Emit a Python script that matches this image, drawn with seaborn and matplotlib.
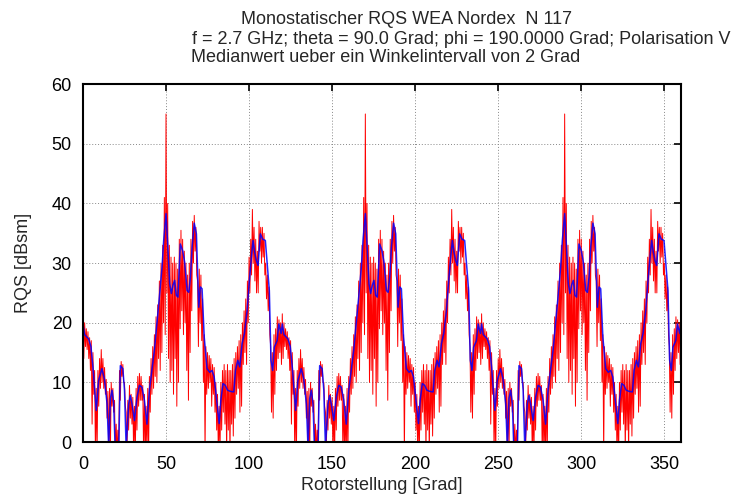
import numpy as np
import pandas as pd
import matplotlib
matplotlib.use("Agg")
import matplotlib.pyplot as plt
import seaborn as sb

# one rotor period (120 Grad); the chart repeats it 3x
periode = 120

# median curve (blue)
blau_grad = [0, 1, 3.4, 4.8, 6, 8, 9.4, 11.4, 12.9, 14.5, 15.5, 16.5, 17.5, 18.5,
             19.5, 20.5, 21.5, 22.5, 24, 25, 26, 27.5, 28.5, 29.5, 31, 32.5, 34,
             35.5, 37, 38.5, 40, 41.5, 43, 44.5, 46, 47.6, 48.6, 50, 51, 52.2,
             53.2, 54.2, 55.2, 56.2, 57.2, 58.6, 60, 61.2, 62.7, 63.7, 64.7,
             65.7, 67, 68.3, 69.7, 70.7, 71.7, 73, 74.7, 76.3, 77.7, 79, 80.7,
             82, 83, 84.3, 85.7, 87, 88.7, 90.8, 91.8, 93.2, 94.4, 95.8, 97.2,
             98.8, 100.2, 101.4, 102.4, 103.4, 104.4, 105.4, 106.8, 108.2,
             109.8, 111.2, 112.2, 113.2, 114.2, 115.2, 116.9, 117.9, 119.3]
blau_wert = [19.8, 18, 17.3, 16, 12.6, 5.3, 10.3, 12.3, 10.6, 6.4, -1, 7.3, 8.7,
             6.4, -2, -3, -2, 12.8, 12.3, 8.7, -1, 6.4, 7.8, 6.4, 3.6, 7.5, 9.5,
             9.2, 7, 3, 8.7, 12, 15.4, 19.8, 24.3, 29.3, 33.8, 38.3, 33.2, 26.5,
             24.9, 26.3, 27.1, 24.6, 24.3, 33.2, 32.1, 30.2, 25.4, 25.1, 27.7,
             32.7, 36.7, 34.9, 22.6, 26, 25.7, 17.6, 12.3, 11.7, 12, 10.9, 6.4,
             3.1, 7, 9.8, 9.5, 8.7, 8.5, 8.4, 12, 13.7, 12.6, 16.5, 18.2, 22,
             27.1, 31, 33.8, 31.8, 30.4, 29.6, 34.9, 34, 33.8, 28.8, 25.4, 13.7,
             12, 15.9, 17, 19.8, 18.2]

# raw curve (red): upper and lower excursions per degree, 0..119
rot_hoch = [21.5, 20, 19, 18.5, 17.5, 17, 15, 12, 9, 12, 14, 15.5, 14, 12.5,
            10.5, 8.5, 9, 10, 9, 7, 3, 2, 12, 13.5, 13, 10, 5, 7, 9.5, 8, 7.5,
            6, 9, 11, 11.5, 11, 9.5, 8, 6, 9, 11, 14, 16, 18, 21, 23, 27, 30,
            33, 41, 55, 40, 33, 31, 30, 31, 30, 29, 34, 35.5, 34, 32, 30, 28,
            30, 34, 37, 38, 36, 27, 29, 28, 24, 18, 16, 15, 14.5, 14, 13, 12.5,
            10, 8, 6, 10, 12, 13, 12, 13, 12, 12, 13, 14, 15, 16, 17, 18, 20,
            22, 24, 27, 31, 34, 39, 36, 34, 32, 37, 36, 36, 35, 30, 28, 26, 16,
            15, 18, 19, 21, 20.5, 20]
rot_tief = [14, 16, 15.5, 14, 12, 3, 8, -2, -2, 6, 9, 10, 9, 8, 4, -2, -2, 6,
            5, -2, -2, -2, 7, 11, 10, 6, -2, 2, 4, 3, -2, -2, 2, 6, 7, 7, -2,
            -2, -2, -2, 5, 8, 9, 11, 10, 14, 12, 15, 20, 18, 25, 14, 10, 12, 8,
            14, 6, 10, 19, 22, 18, 20, 12, 7, 15, 22, 30, 32, 28, 16, 20, 17,
            10, -2, 8, 9, 10, 6, 8, 5, 2, -2, -2, 2, 5, 3, -2, 2, -2, 3, 1, 4,
            8, 9, 5, 6, 13, 15, 13, 20, 25, 28, 30, 27, 25, 25, 32, 30, 31, 28,
            24, 22, 18, 5, 4, 8, 12, 14, 15, 13]

# build the full 0..360 series from the three identical periods
blau_x, blau_y, rot_x, rot_y = [], [], [], []
for k in range(3):
    blau_x += [g + k * periode for g in blau_grad]
    blau_y += blau_wert
    for d in range(periode):
        rot_x += [d + k * periode, d + 0.5 + k * periode]
        rot_y += [rot_hoch[d], rot_tief[d]]
blau_x.append(360)
blau_y.append(blau_wert[0])
rot_x.append(360)
rot_y.append(rot_hoch[0])

blau = pd.DataFrame({"Grad": blau_x, "RQS": blau_y})
rot = pd.DataFrame({"Grad": rot_x, "RQS": rot_y})

sb.set_style("white")
plt.rcParams["font.family"] = ["Liberation Sans", "DejaVu Sans"]

fig = plt.figure(figsize=(7.31, 4.95), dpi=100)
ax = fig.add_axes([0.1135, 0.107, 0.818, 0.723])

sb.lineplot(data=rot, x="Grad", y="RQS", color="red", linewidth=0.7,
            estimator=None, sort=False, ax=ax)
sb.lineplot(data=blau, x="Grad", y="RQS", color="blue", linewidth=1.1,
            alpha=0.85, estimator=None, sort=False, ax=ax)

ax.set_xlim(0, 360)
ax.set_ylim(0, 60)
ax.set_xticks(np.arange(0, 351, 50))
ax.set_yticks(np.arange(0, 61, 10))
ax.grid(True, color="#888888", linestyle=(0, (1, 2)), linewidth=0.7)
ax.set_axisbelow(True)
ax.tick_params(direction="in", length=5, width=1.2, top=True, right=True,
               labelsize=13, colors="black")
ax.tick_params(axis="x", pad=10)
ax.tick_params(axis="y", pad=8)
for s in ax.spines.values():
    s.set_color("black")
    s.set_linewidth(1.5)

ax.set_xlabel("Rotorstellung [Grad]", fontsize=13, labelpad=3)
ax.set_ylabel("RQS [dBsm]", fontsize=13, labelpad=14)

fig.text(407 / 731, 1 - 20 / 495, "Monostatischer RQS WEA Nordex  N 117",
         ha="center", va="center", fontsize=13)
fig.text(192 / 731, 1 - 39 / 495,
         "f = 2.7 GHz; theta = 90.0 Grad; phi = 190.0000 Grad; Polarisation V",
         ha="left", va="center", fontsize=13)
fig.text(386 / 731, 1 - 57 / 495, "Medianwert ueber ein Winkelintervall von 2 Grad",
         ha="center", va="center", fontsize=13)

fig.savefig("out.png", dpi=100)
